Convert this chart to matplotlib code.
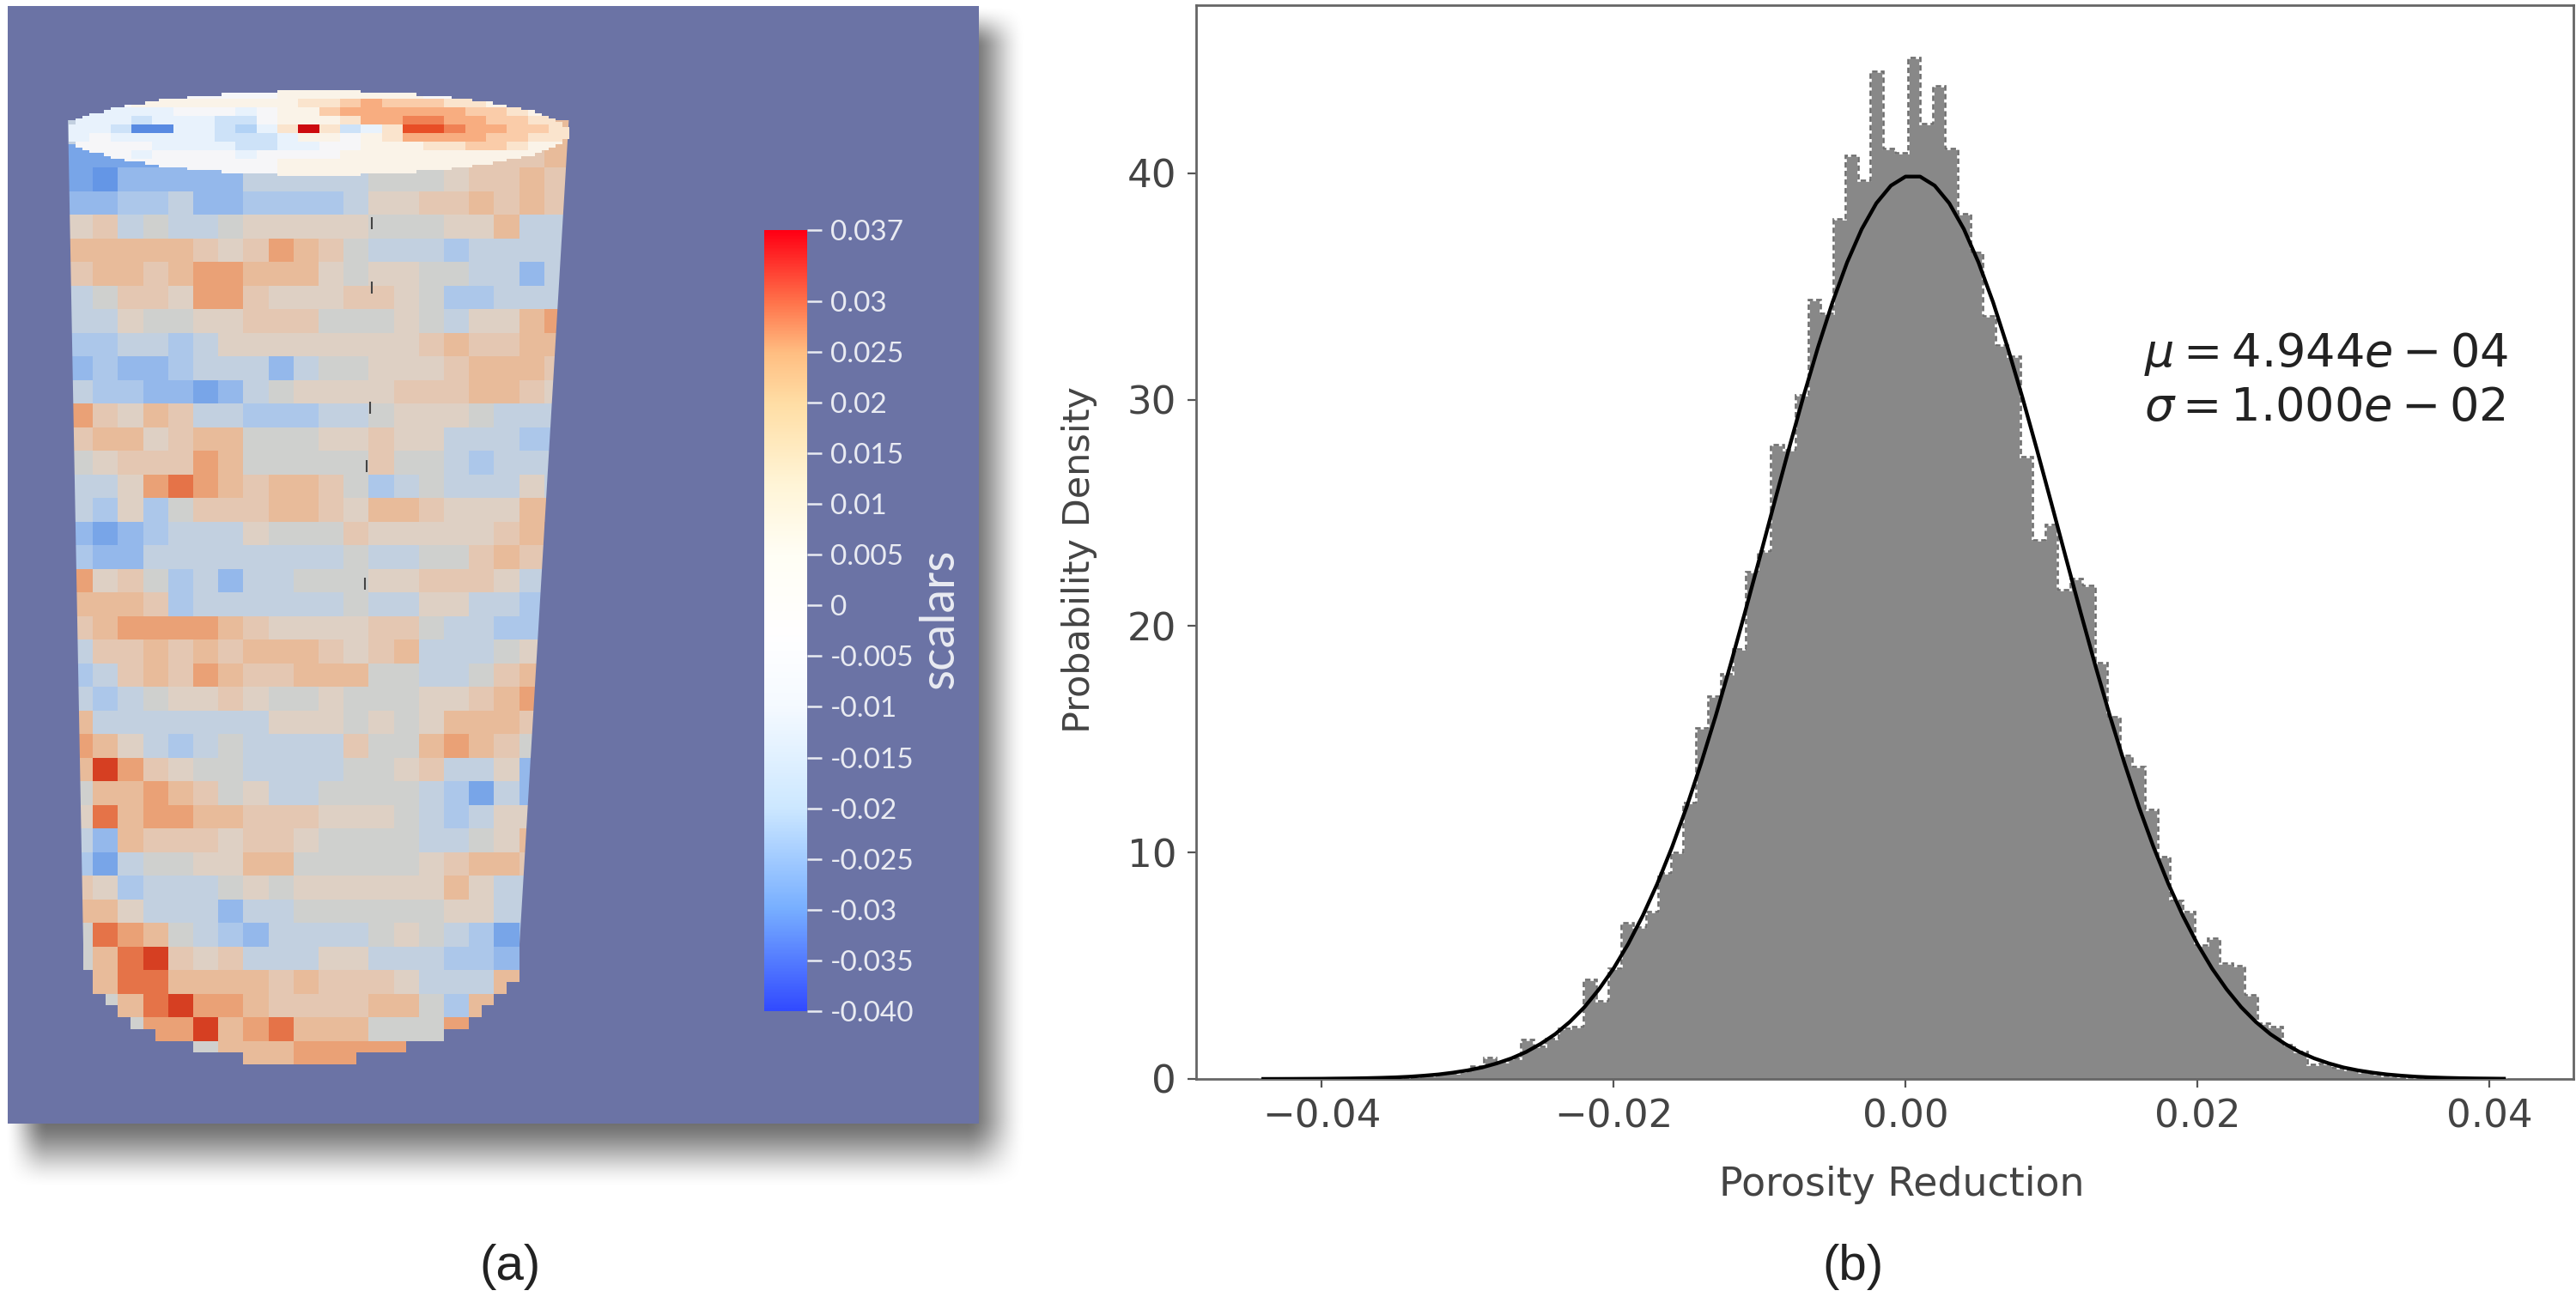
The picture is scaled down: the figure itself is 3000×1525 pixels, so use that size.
import numpy as np
import matplotlib
matplotlib.use("Agg")
import matplotlib.pyplot as plt
from matplotlib.colors import LinearSegmentedColormap, Normalize
from matplotlib.patches import Polygon

W, H = 3000, 1525

# ---------- panel (b) data ----------
hist_left = -0.0443
hist_width = 0.000855
hist_values = [
    .01, 0, 0, .01, .01, .01, .02, .02, .03, .05,
    .07, .09, .12, .15, .22, .28, .36, .55, .96, .75,
    .9, 1.75, 1.45, 1.8, 2.25, 2.3, 4.4, 3.45, 4.9, 6.9,
    6.7, 7.4, 9.1, 10.0, 12.2, 15.5, 16.9, 17.9, 19.0, 22.4,
    23.3, 28.0, 27.8, 30.2, 34.4, 33.8, 38.0, 40.8, 39.7, 44.5,
    41.1, 40.9, 45.1, 42.2, 43.85, 41.1, 38.2, 36.5, 33.7, 32.4,
    31.9, 27.5, 23.8, 24.5, 21.6, 22.1, 21.8, 18.4, 16.0, 14.3,
    13.8, 11.9, 9.8, 7.9, 7.4, 5.9, 6.2, 5.1, 5.0, 3.7,
    2.45, 2.3, 1.5, 1.2, .66, .7, .5, .4, .3, .22,
    .17, .12, .09, .07, .05, .03, .03, .02, .01, .01]
curve_x_milli = list(range(-44, 42))
curve_y = [
    .002, .003, .005, .008, .011, .018, .024, .035, .05, .07, .10, .145, .20, .28, .38,
    .51, .69, .91, 1.19, 1.55, 1.98, 2.52, 3.17, 3.96, 4.88, 5.96, 7.21, 8.63, 10.23,
    12.00, 13.95, 16.04, 18.27, 20.60, 22.99, 25.41, 27.80, 30.12, 32.30, 34.30, 36.06,
    37.53, 38.67, 39.45, 39.85,
    39.85, 39.45, 38.67, 37.53, 36.06, 34.30, 32.30, 30.12, 27.80, 25.41, 22.99, 20.60,
    18.27, 16.04, 13.95, 12.00, 10.23, 8.63, 7.21, 5.96, 4.88, 3.96, 3.17, 2.52, 1.98,
    1.55, 1.19, .91, .69, .51, .38, .28, .20, .145, .10, .07, .05, .035, .024, .018, .011]
x_ticks = [-0.04, -0.02, 0.00, 0.02, 0.04]
y_ticks = [0, 10, 20, 30, 40]

# ---------- panel (a) data ----------
scale_ticks = [0.037, 0.03, 0.025, 0.02, 0.015, 0.01, 0.005, 0, -0.005, -0.01,
               -0.015, -0.02, -0.025, -0.03, -0.035, -0.04]
scale_labels = ["0.037", "0.03", "0.025", "0.02", "0.015", "0.01", "0.005", "0", "-0.005", "-0.01",
                "-0.015", "-0.02", "-0.025", "-0.03", "-0.035", "-0.040"]
level_codes = {'f': -36, 'e': -31, 'd': -28, 'c': -24, 'b': -20, 'a': -14, '0': 0,
               '1': 8, '2': 14, '3': 20, '4': 25, '5': 30, '6': 34, '7': 37}
side_rows = [
    "aa000000000000000023",
    "ddddccc0000000002223",
    "decccccaaaaa00012232",
    "ccbbaccbbbba11223232",
    "12a0aa011111000113aa",
    "333332124320aaabaaaa",
    "2332344333101100aaca",
    "a02214421112210bbaaa",
    "aa1001122200010a1134",
    "bbaaba11111111232233",
    "cbccbaaaca0011123332",
    "abbccdca011112223321",
    "42132aabbbaa01110aaa",
    "233123300011211aaabb",
    "012224300000200abaaa",
    "aa1454323320ba0aaa1a",
    "ab1b0222332133211133",
    "cdcbaaa1000211111234",
    "bccaaaaaaaa0aa002321",
    "4120bacaa000112221aa",
    "3332baaaaaa0aa11aabc",
    "234444321111220aabbb",
    "a2232323332123aaa010",
    "ba232432233300aa0230",
    "aba01121001000112340",
    "3aaaaaaa111010133320",
    "431aba0aaaa200343200",
    "3642100aaaa0012aa1c0",
    "03343201aa0000abdac0",
    "15344332221110aba110",
    "ac322212210000aa0130",
    "bda00113300000123320",
    "21baaa01011111131aa0",
    "331aaacaa00000011aa0",
    "05430abcaaaa010abdb0",
    "0356212aaa11aaabbcb0",
    "03553333232221aaa300",
    "003564432222330b3000",
    "00044634533300044000",
    "00000033344444300000",
]
cap_rows = [
    "000000000011111110000000",
    "000111111112234333221111",
    "0aaaa000a011344444433211",
    "aaabaaabb011124455443322",
    "aabffaabca272ba266544332",
    "a0aaaaabbba1101244443322",
    "0000aaaabbaa001112233211",
    "000a0000a000011111111111",
    "000000000011111111111111",
    "000000000011111111111111",
]
seam_y = [260, 335, 475, 543, 680]
seam_x = [433, 433, 431, 427, 425]


def decode(rows):
    return np.array([[level_codes[c] * 0.001 for c in r] for r in rows], dtype=float)


side = decode(side_rows)
cap = decode(cap_rows)

# ---------- colours ----------
vmin, vmax = -0.040, 0.037
norm = Normalize(vmin, vmax)


def make_cmap(name, stops):
    return LinearSegmentedColormap.from_list(
        name, [((v - vmin) / (vmax - vmin), tuple(c / 255 for c in rgb)) for v, rgb in stops])


cmap = make_cmap("scalars", [
    (-.04, (50, 75, 255)), (-.03, (120, 175, 255)), (-.02, (205, 232, 255)),
    (-.01, (245, 250, 255)), (-.003, (255, 255, 255)), (.005, (255, 254, 245)),
    (.012, (255, 245, 215)), (.02, (255, 222, 165)), (.025, (255, 190, 130)),
    (.03, (255, 115, 75)), (.037, (255, 0, 20))])
cmap_side = make_cmap("side", [
    (-.04, (85, 135, 225)), (-.031, (100, 150, 230)), (-.028, (122, 166, 232)),
    (-.024, (148, 184, 235)), (-.02, (172, 199, 234)), (-.014, (194, 208, 224)),
    (0, (207, 208, 206)), (.008, (222, 208, 196)), (.014, (228, 199, 178)),
    (.02, (232, 187, 155)), (.025, (234, 163, 120)), (.03, (229, 116, 72)),
    (.034, (215, 68, 36)), (.037, (200, 20, 20))])
cmap_cap = make_cmap("cap", [
    (-.04, (80, 130, 222)), (-.036, (88, 138, 226)), (-.028, (140, 185, 240)),
    (-.024, (178, 210, 245)), (-.02, (205, 226, 248)), (-.014, (232, 242, 252)),
    (0, (246, 246, 248)), (.008, (250, 243, 232)), (.014, (250, 228, 205)),
    (.02, (250, 205, 170)), (.025, (248, 175, 130)), (.03, (240, 130, 85)),
    (.034, (235, 85, 40)), (.037, (205, 10, 15))])

fig = plt.figure(figsize=(W / 100, H / 100), dpi=100, facecolor="white")


def axes_px(x0, y0, x1, y1, **kw):
    return fig.add_axes([x0 / W, 1 - y1 / H, (x1 - x0) / W, (y1 - y0) / H], **kw)


# ---------- panel (a) ----------
pa = fig.add_axes([0, 0, 1, 1])
pa.set_axis_off()

# soft shadow behind the panel
gy, gx = np.mgrid[0:1420, 0:1240]


def ramp(t):
    t = np.clip(t, 0, 1)
    return t * t * (3 - 2 * t)


sh = ramp((gx - 5) / 50) * ramp((1195 - gx) / 70) * ramp((gy - 5) / 50) * ramp((1385 - gy) / 85)
rgba = np.zeros(sh.shape + (4,))
rgba[..., 3] = sh * 0.58
pa.imshow(rgba, extent=(0, 1240, 1420, 0), interpolation="bilinear", zorder=1)
pa.fill([9, 1140, 1140, 9], [7, 7, 1309, 1309], color="#6b73a5", lw=0, zorder=2)


def edges(start, step, n, sub):
    return start + step / sub * np.arange(n * sub + 1)


# side surface, subdivided so the masked lower outline steps finely
sub = 2
xe = edges(79, 29.2, side.shape[1], sub)
ye = edges(140, 27.5, side.shape[0], sub)
xc = .5 * (xe[1:] + xe[:-1])
yc = .5 * (ye[1:] + ye[:-1])
XC, YC = np.meshgrid(xc, yc)
bottom = 1110 + 127 * np.sqrt(np.clip(1 - ((XC - 351) / 254) ** 2, 0, 1))
outside = (YC > 1098) & (YC > bottom)
side_fine = np.repeat(np.repeat(side, sub, axis=0), sub, axis=1)
mesh = pa.pcolormesh(xe, ye, np.ma.array(side_fine, mask=outside), cmap=cmap_side, norm=norm,
                     shading="flat", antialiased=False, linewidth=0, zorder=3)
mesh.set_clip_path(Polygon([(79, 130), (663, 130), (605, 1100), (605, 1300), (97, 1300), (97, 1100)],
                           closed=True, transform=pa.transData))
pa.vlines(seam_x, np.array(seam_y) - 7, np.array(seam_y) + 7, color="#444444", lw=1.5, zorder=4)

# top cap
sub_c = 3
xe2 = edges(80, 24.3, cap.shape[1], sub_c)
ye2 = edges(105, 10.0, cap.shape[0], sub_c)
xc2 = .5 * (xe2[1:] + xe2[:-1])
yc2 = .5 * (ye2[1:] + ye2[:-1])
XC2, YC2 = np.meshgrid(xc2, yc2)
outside2 = ((XC2 - 370) / 292) ** 2 + ((YC2 - 155) / 49) ** 2 > 1
cap_fine = np.repeat(np.repeat(cap, sub_c, axis=0), sub_c, axis=1)
pa.pcolormesh(xe2, ye2, np.ma.array(cap_fine, mask=outside2), cmap=cmap_cap, norm=norm,
              shading="flat", antialiased=False, linewidth=0, zorder=5)
pa.set_xlim(0, W)
pa.set_ylim(H, 0)

# colour bar
cb = axes_px(890, 268, 940, 1178)
cb.imshow(np.linspace(vmax, vmin, 512)[:, None], aspect="auto", cmap=cmap, norm=norm,
          extent=(0, 1, vmin, vmax), interpolation="bilinear")
for s in cb.spines.values():
    s.set_visible(False)
cb.set_xticks([])
cb.yaxis.tick_right()
cb.set_yticks(scale_ticks)
cb.set_yticklabels(scale_labels, family="Lato", fontsize=24, color="#e9ebf2")
cb.tick_params(axis="y", length=12.5, width=1.8, color="#e9ebf2", pad=7)
cb.minorticks_off()
pa.text(1095, 721, "scalars", rotation=90, ha="center", va="center", family="Lato",
        fontsize=40, color="#e9ebf2", zorder=6)

# ---------- panel (b) ----------
ax = axes_px(1393, 6, 2997, 1257)
edges_h = hist_left + hist_width * np.arange(len(hist_values) + 1)
ax.stairs(hist_values, edges_h, fill=True, color="#888888", lw=0, zorder=2)
ax.stairs(hist_values, edges_h, color="white", lw=1.9, zorder=3)
ax.stairs(hist_values, edges_h, color="#6e6e6e", lw=1.9, ls=(0, (2.4, 1.4)), zorder=4)
ax.plot(np.array(curve_x_milli) * 0.001, curve_y, color="black", lw=3.1, zorder=5,
        solid_joinstyle="round")
ax.set_xlim(-0.0486, 0.04576)
ax.set_ylim(0, 47.42)
ax.set_xticks(x_ticks)
ax.set_xticklabels(["\u22120.04", "\u22120.02", "0.00", "0.02", "0.04"])
ax.set_yticks(y_ticks)
ax.tick_params(labelsize=32.5, labelcolor="#444444", color="#555555", length=7.5, width=1.6, pad=9)
for s in ax.spines.values():
    s.set_color("#666666")
    s.set_linewidth(2)
ax.set_xlabel("Porosity Reduction", fontsize=33, color="#444444")
ax.xaxis.set_label_coords(0.5125, -0.081)
ax.set_ylabel("Probability Density", fontsize=31, color="#444444")
ax.yaxis.set_label_coords(-0.072, 0.484)
ax.text(2497, 412, r"$\mu = 4.944e-04$", transform=pa.transData, fontsize=39, color="#222222",
        va="center", ha="left", zorder=6)
ax.text(2497, 475, r"$\sigma = 1.000e-02$", transform=pa.transData, fontsize=39, color="#222222",
        va="center", ha="left", zorder=6)

# ---------- captions ----------
pa.text(594, 1476, "(a)", ha="center", va="center", family="Liberation Sans", fontsize=42,
        color="#222222", zorder=6)
pa.text(2158, 1476, "(b)", ha="center", va="center", family="Liberation Sans", fontsize=42,
        color="#222222", zorder=6)

fig.savefig("out.png", dpi=100, facecolor="white")
